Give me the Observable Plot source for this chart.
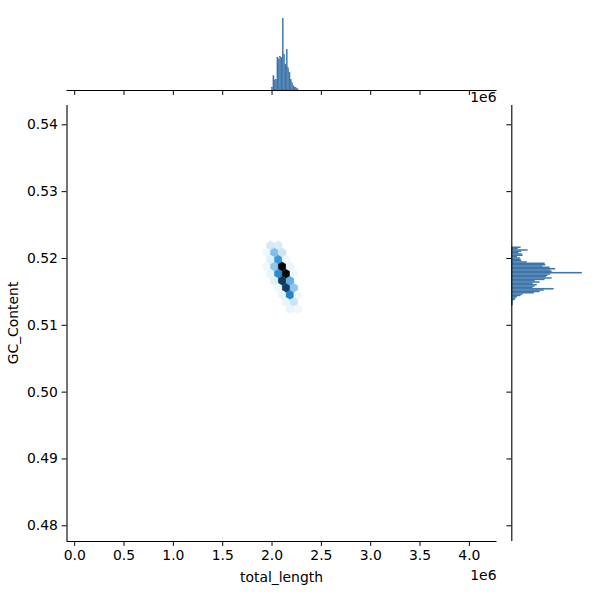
<!DOCTYPE html>
<html><head><meta charset="utf-8">
<script src="https://cdn.jsdelivr.net/npm/d3@7"></script>
<script src="https://cdn.jsdelivr.net/npm/@observablehq/plot@0.6"></script>
<style>
body{margin:0;background:#fff;}
#chart{position:relative;width:600px;height:600px;font-family:"DejaVu Sans";}
#chart svg{position:absolute;left:0;top:0;}
</style></head><body><div id="chart"></div>
<script>
// ---- data ----
const xTicks = [0, 500000, 1000000, 1500000, 2000000, 2500000, 3000000, 3500000, 4000000];
const yTicks = [0.48, 0.49, 0.50, 0.51, 0.52, 0.53, 0.54];
const xDomain = [-78000, 4280000];
const yDomain = [0.47765, 0.54289];

// hexbin cells (centers in data units) and their counts
const hexX = [
  1983800, 2062900,
  1944000, 2023300, 2102500,
  1983800, 2062900, 2142000,
  1944000, 2023300, 2102500, 2181500,
  1983800, 2062900, 2142000, 2221100,
  2023300, 2102500, 2181500,
  2062900, 2142000, 2221100,
  2102500, 2181500, 2260600,
  2142000, 2221100,
  2181500, 2260600
];
const hexY = [
  0.52194, 0.52194,
  0.52088, 0.52088, 0.52088,
  0.51981, 0.51981, 0.51981,
  0.51877, 0.51877, 0.51877, 0.51877,
  0.51770, 0.51770, 0.51770, 0.51770,
  0.51664, 0.51664, 0.51664,
  0.51558, 0.51558, 0.51558,
  0.51453, 0.51453, 0.51453,
  0.51347, 0.51347,
  0.51241, 0.51241
];
const hexCount = [
  7, 6,
  3, 18, 8,
  5, 28, 3,
  3, 16, 60, 4,
  4, 31, 58, 3,
  5, 48, 22,
  3, 47, 16,
  4, 33, 3,
  4, 8,
  4, 3
];
const hexSizeX = 79300;     // hexbin cell width (data units)
const hexSizeY = 0.002118;  // hexbin row pitch (data units)

// top marginal histogram (total_length)
const topBinStart = [1999000, 2012500, 2026000, 2039500, 2053000, 2066500, 2080000, 2093500, 2107000, 2120500,
                     2134000, 2147500, 2161000, 2174500, 2188000, 2201500, 2215000, 2228500, 2242000, 2255500];
const topBinWidth = 13500;
const topCounts = [4, 20, 14, 15, 46, 43, 47, 46, 100, 50, 36, 57, 31, 25, 15, 10, 6, 4, 3, 2];

// right marginal histogram (GC_Content), bins listed from the top
const rightBinTop = [0.5219, 0.5217, 0.5215, 0.5213, 0.5211, 0.5209, 0.5207, 0.5205, 0.5203, 0.5201,
                     0.5199, 0.5197, 0.5195, 0.5193, 0.5191, 0.5189, 0.5187, 0.5185, 0.5183, 0.5181,
                     0.5179, 0.5177, 0.5175, 0.5173, 0.5171, 0.5169, 0.5167, 0.5165, 0.5163, 0.5161,
                     0.5159, 0.5157, 0.5155, 0.5153, 0.5151, 0.5149, 0.5147, 0.5145, 0.5143, 0.5141,
                     0.5139, 0.5137, 0.5135, 0.5133, 0.5131];
const rightBinWidth = 0.0002;
const rightCounts = [0, 13, 9, 23, 14, 10, 15, 16, 8, 12,
                     13, 14, 22, 47, 48, 44, 54, 62, 55, 57,
                     100, 55, 51, 49, 57, 47, 33, 40, 30, 36,
                     33, 30, 60, 46, 40, 32, 16, 13, 8, 6,
                     5, 2, 2, 2, 2];

// ---- build ----
const W = 600, H = 600;
const L = 66.5, R = 496.5, T = 105, B = 541;   // joint axes frame
const margTopY = 14.8, margTopBase = 90;
const margRightX0 = 511.3, margRightX1 = 585.4;
const font = {background: "transparent", fontFamily: "DejaVu Sans", fontSize: "13.9px", color: "black", overflow: "visible"};
const histColor = "#3e76aa";

const hexes = hexX.map((x, i) => ({x, y: hexY[i], count: hexCount[i]}));
const topData = topBinStart.map((x1, i) => ({x1, x2: x1 + topBinWidth, count: topCounts[i]}));
const rightData = rightBinTop.map((y2, i) => ({y1: y2 - rightBinWidth, y2, count: rightCounts[i]}));

// seaborn-style hex colormap: hue of C0, lightness 1 -> 0
const c0 = d3.hsl("#1f77b4");
const stops = d3.range(12).map(i => d3.hsl(c0.h, c0.s, 1 - i / 11).formatHex());
const cmap = d3.piecewise(d3.interpolateRgb, stops);

// hex geometry in pixels (matplotlib hexbin polygon)
const kx = (R - L) / (xDomain[1] - xDomain[0]);
const ky = (B - T) / (yDomain[1] - yDomain[0]);
const hw = hexSizeX * kx / 2, hv = hexSizeY * ky / 6, ht = hexSizeY * ky / 3;
const hexSymbol = {draw(ctx) {
  ctx.moveTo(0, -ht); ctx.lineTo(hw, -hv); ctx.lineTo(hw, hv);
  ctx.lineTo(0, ht); ctx.lineTo(-hw, hv); ctx.lineTo(-hw, -hv); ctx.closePath();
}};

const mainPlot = Plot.plot({
  width: W, height: H,
  marginLeft: L, marginRight: W - R, marginTop: T, marginBottom: H - B,
  style: font,
  x: {domain: xDomain, ticks: xTicks, tickFormat: d => (d / 1e6).toFixed(1), tickSize: 4.9, tickPadding: 4.2, label: null},
  y: {domain: yDomain, ticks: yTicks, tickFormat: d3.format(".2f"), tickSize: 4.9, tickPadding: 4.2, label: null},
  color: {type: "linear", domain: [1, d3.max(hexCount)], interpolate: cmap},
  marks: [
    Plot.dot(hexes, {x: "x", y: "y", fill: "count", stroke: "count", strokeWidth: 0.3, r: 5, symbol: hexSymbol}),
    Plot.ruleX([xDomain[0]], {stroke: "black", strokeWidth: 1.1}),
    Plot.ruleY([yDomain[0]], {stroke: "black", strokeWidth: 1.1})
  ]
});

const topPlot = Plot.plot({
  width: W, height: H,
  marginLeft: L, marginRight: W - R, marginTop: margTopY, marginBottom: H - margTopBase,
  style: font,
  x: {domain: xDomain, ticks: xTicks, tickFormat: () => "", tickSize: 4.9, label: null},
  y: {domain: [0, d3.max(topCounts) * 1.05], axis: null},
  marks: [
    Plot.rectY(topData, {x1: "x1", x2: "x2", y: "count", fill: histColor, stroke: histColor, strokeWidth: 0.2}),
    Plot.ruleY([0], {stroke: "black", strokeWidth: 1.1})
  ]
});

const rightPlot = Plot.plot({
  width: W, height: H,
  marginLeft: margRightX0, marginRight: W - margRightX1, marginTop: T, marginBottom: H - B,
  style: font,
  x: {domain: [0, d3.max(rightCounts) * 1.05], axis: null},
  y: {domain: yDomain, ticks: yTicks, tickFormat: () => "", tickSize: 4.9, label: null},
  marks: [
    Plot.rectX(rightData, {y1: "y1", y2: "y2", x: "count", fill: histColor, stroke: histColor, strokeWidth: 0.2}),
    Plot.ruleX([0], {stroke: "black", strokeWidth: 1.1})
  ]
});

const chart = document.getElementById("chart");
[topPlot, rightPlot, mainPlot].forEach(p => chart.appendChild(p));

const ms = d3.select(mainPlot);
const txt = (sel, x, y, s, anchor, rot) => {
  const t = sel.append("text").attr("x", x).attr("y", y).attr("text-anchor", anchor)
    .attr("dominant-baseline", "middle").attr("font-family", "DejaVu Sans").attr("font-size", "13.9px")
    .attr("fill", "black").text(s);
  if (rot) t.attr("transform", `rotate(-90 ${x} ${y})`);
  return t;
};
txt(ms, (L + R) / 2, 578, "total_length", "middle");
txt(ms, R, 576, "1e6", "end");
txt(ms, 14, (T + B) / 2, "GC_Content", "middle", true);
txt(d3.select(topPlot), R, 98, "1e6", "end");
</script></body></html>
